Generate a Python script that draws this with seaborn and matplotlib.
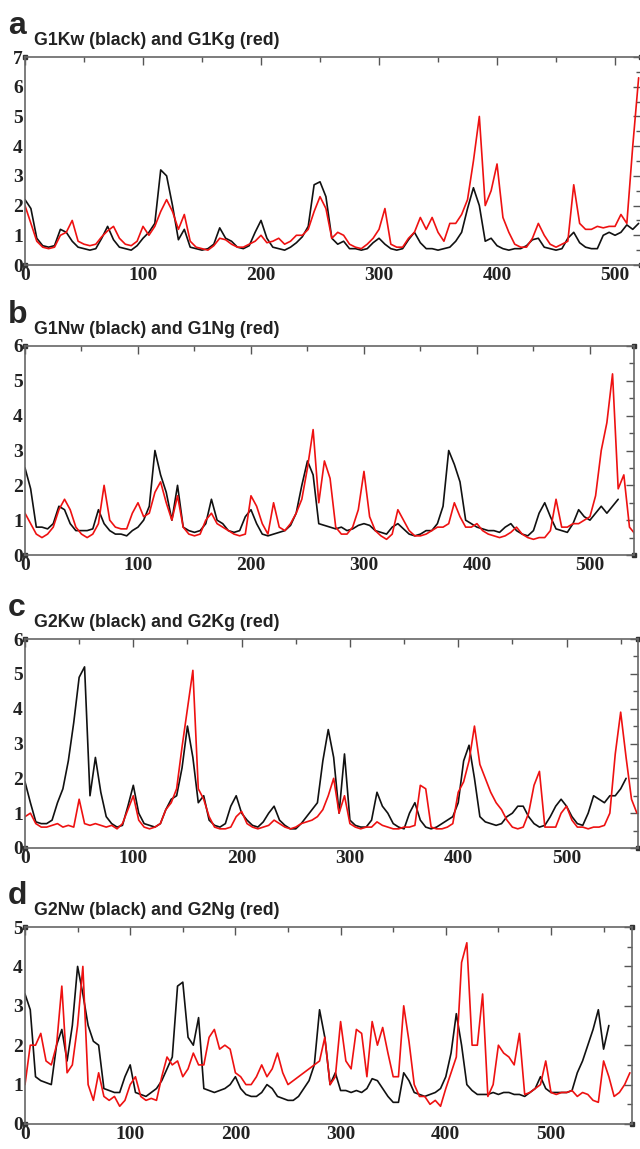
import numpy as np
import pandas as pd
import matplotlib
matplotlib.use("Agg")
import matplotlib.pyplot as plt
import seaborn as sns

# RMSF-like profiles, one value every 5 residues
step = 5

g1kw = [2.2, 1.9, 0.9, 0.65, 0.6, 0.65, 1.2, 1.1, 0.8, 0.6, 0.55, 0.5, 0.55, 0.9, 1.3, 0.85,
        0.6, 0.55, 0.5, 0.65, 0.9, 1.1, 1.4, 3.2, 3.0, 2.0, 0.85, 1.2, 0.6, 0.55, 0.5, 0.55,
        0.7, 1.25, 0.9, 0.8, 0.6, 0.55, 0.65, 1.1, 1.5, 0.9, 0.6, 0.55, 0.5, 0.6, 0.75, 0.95,
        1.3, 2.7, 2.8, 2.3, 0.9, 0.7, 0.8, 0.55, 0.55, 0.5, 0.55, 0.75, 0.9, 0.7, 0.55, 0.5,
        0.55, 0.85, 1.1, 0.75, 0.55, 0.55, 0.5, 0.55, 0.6, 0.8, 1.1, 1.9, 2.6, 2.0, 0.8, 0.9,
        0.65, 0.55, 0.5, 0.55, 0.55, 0.65, 0.85, 0.9, 0.6, 0.55, 0.5, 0.55, 0.9, 1.1, 0.75, 0.6,
        0.55, 0.55, 1.0, 1.1, 1.0, 1.1, 1.35, 1.2, 1.4]
g1kg = [2.0, 1.4, 0.8, 0.6, 0.55, 0.6, 1.0, 1.1, 1.5, 0.8, 0.7, 0.65, 0.7, 0.95, 1.15, 1.3,
        0.9, 0.7, 0.65, 0.8, 1.3, 1.0, 1.3, 1.8, 2.2, 1.8, 1.2, 1.7, 0.8, 0.6, 0.55, 0.5,
        0.65, 0.9, 0.85, 0.7, 0.6, 0.6, 0.7, 0.8, 1.0, 0.75, 0.8, 0.9, 0.7, 0.8, 1.0, 1.0,
        1.2, 1.8, 2.3, 1.9, 0.9, 1.1, 1.0, 0.7, 0.6, 0.55, 0.7, 0.9, 1.2, 1.9, 0.7, 0.6,
        0.6, 0.9, 1.1, 1.6, 1.2, 1.6, 1.1, 0.8, 1.4, 1.4, 1.7, 2.2, 3.5, 5.0, 2.0, 2.5,
        3.4, 1.6, 1.1, 0.7, 0.6, 0.6, 0.9, 1.4, 1.0, 0.7, 0.6, 0.7, 0.8, 2.7, 1.4, 1.2,
        1.2, 1.3, 1.25, 1.3, 1.3, 1.7, 1.4, 4.0, 6.3]

g1nw = [2.5, 1.9, 0.8, 0.8, 0.75, 0.9, 1.4, 1.3, 0.9, 0.7, 0.7, 0.7, 0.75, 1.3, 0.9, 0.7,
        0.6, 0.6, 0.55, 0.7, 0.8, 1.0, 1.4, 3.0, 2.3, 1.8, 1.0, 2.0, 0.8, 0.7, 0.65, 0.7,
        0.9, 1.6, 1.0, 0.9, 0.7, 0.65, 0.7, 1.1, 1.3, 0.9, 0.6, 0.55, 0.6, 0.65, 0.7, 0.85,
        1.2, 2.0, 2.7, 2.3, 0.9, 0.85, 0.8, 0.75, 0.8, 0.7, 0.75, 0.85, 0.9, 0.85, 0.7, 0.65,
        0.6, 0.8, 0.9, 0.75, 0.6, 0.55, 0.6, 0.7, 0.7, 0.9, 1.4, 3.0, 2.6, 2.1, 1.0, 0.9,
        0.8, 0.75, 0.7, 0.7, 0.65, 0.8, 0.9, 0.7, 0.6, 0.55, 0.7, 1.2, 1.5, 1.1, 0.75, 0.7,
        0.65, 0.9, 1.3, 1.1, 1.0, 1.2, 1.4, 1.2, 1.4, 1.6]
g1ng = [1.2, 0.9, 0.6, 0.5, 0.6, 0.8, 1.3, 1.6, 1.3, 0.8, 0.6, 0.5, 0.6, 0.9, 2.0, 1.0,
        0.8, 0.75, 0.75, 1.2, 1.5, 1.1, 1.2, 1.8, 2.1, 1.5, 1.0, 1.7, 0.8, 0.6, 0.55, 0.6,
        1.0, 1.2, 0.9, 0.8, 0.7, 0.6, 0.55, 0.6, 1.7, 1.4, 0.9, 0.6, 1.5, 0.8, 0.7, 0.9,
        1.2, 1.6, 2.5, 3.6, 1.5, 2.7, 2.2, 0.8, 0.6, 0.6, 0.8, 1.3, 2.4, 1.1, 0.7, 0.55,
        0.45, 0.6, 1.3, 1.0, 0.7, 0.55, 0.55, 0.6, 0.7, 0.8, 0.8, 0.9, 1.5, 1.1, 0.8, 0.8,
        0.9, 0.7, 0.6, 0.55, 0.5, 0.55, 0.65, 0.8, 0.6, 0.5, 0.45, 0.5, 0.5, 0.7, 1.6, 0.8,
        0.8, 0.9, 0.9, 1.0, 1.1, 1.7, 3.0, 3.8, 5.2, 1.9, 2.3, 0.8, 0.6]

g2kw = [1.9, 1.3, 0.75, 0.7, 0.7, 0.8, 1.3, 1.7, 2.5, 3.6, 4.9, 5.2, 1.5, 2.6, 1.6, 0.9,
        0.7, 0.6, 0.65, 1.2, 1.8, 1.0, 0.7, 0.65, 0.6, 0.7, 1.1, 1.4, 1.5, 2.3, 3.5, 2.6,
        1.3, 1.5, 0.8, 0.65, 0.6, 0.7, 1.2, 1.5, 1.0, 0.8, 0.65, 0.6, 0.75, 1.0, 1.2, 0.8,
        0.65, 0.55, 0.55, 0.7, 0.9, 1.1, 1.3, 2.5, 3.4, 2.6, 1.0, 2.7, 0.8, 0.65, 0.6, 0.6,
        0.8, 1.6, 1.2, 1.0, 0.7, 0.6, 0.55, 1.0, 1.3, 0.8, 0.6, 0.55, 0.6, 0.7, 0.8, 0.9,
        1.3, 2.5, 2.95, 2.0, 0.9, 0.75, 0.7, 0.65, 0.7, 0.9, 1.0, 1.2, 1.2, 0.9, 0.7, 0.6,
        0.65, 0.9, 1.2, 1.4, 1.2, 0.9, 0.7, 0.65, 1.0, 1.5, 1.4, 1.3, 1.5, 1.5, 1.7, 2.0]
g2kg = [0.9, 1.0, 0.7, 0.6, 0.6, 0.65, 0.7, 0.6, 0.65, 0.6, 1.4, 0.7, 0.65, 0.7, 0.65, 0.6,
        0.65, 0.55, 0.7, 1.1, 1.5, 0.8, 0.6, 0.55, 0.6, 0.7, 1.1, 1.3, 1.7, 2.9, 4.0, 5.1,
        1.7, 1.4, 0.9, 0.6, 0.55, 0.55, 0.6, 0.9, 1.05, 0.7, 0.6, 0.55, 0.6, 0.65, 0.8, 0.7,
        0.6, 0.55, 0.6, 0.7, 0.75, 0.8, 0.9, 1.1, 1.5, 2.0, 1.0, 1.5, 0.7, 0.6, 0.55, 0.6,
        0.6, 0.75, 0.65, 0.6, 0.55, 0.55, 0.6, 0.6, 0.65, 1.8, 1.7, 0.6, 0.55, 0.55, 0.6, 0.7,
        1.6, 1.9, 2.5, 3.5, 2.4, 2.0, 1.6, 1.3, 1.1, 0.8, 0.6, 0.55, 0.6, 1.0, 1.8, 2.2,
        0.6, 0.6, 0.6, 1.0, 1.2, 0.8, 0.6, 0.6, 0.55, 0.6, 0.6, 0.65, 1.0, 2.7, 3.9, 2.6,
        1.4, 1.0]

g2nw = [3.3, 2.9, 1.2, 1.1, 1.05, 1.0, 2.0, 2.4, 1.6, 2.5, 4.0, 3.3, 2.5, 2.1, 2.0, 0.9,
        0.85, 0.8, 0.8, 1.2, 1.5, 0.8, 0.75, 0.7, 0.8, 0.9, 1.1, 1.4, 1.7, 3.5, 3.6, 2.2,
        2.0, 2.7, 0.9, 0.85, 0.8, 0.85, 0.9, 1.0, 1.2, 0.9, 0.75, 0.7, 0.7, 0.8, 1.0, 0.9,
        0.7, 0.65, 0.6, 0.6, 0.7, 0.9, 1.1, 1.5, 2.9, 2.2, 1.0, 1.3, 0.85, 0.85, 0.8, 0.85,
        0.8, 0.9, 1.15, 1.1, 0.9, 0.7, 0.55, 0.55, 1.3, 1.1, 0.8, 0.75, 0.7, 0.75, 0.8, 0.9,
        1.2, 1.8, 2.8, 2.0, 1.0, 0.85, 0.75, 0.75, 0.75, 0.8, 0.75, 0.8, 0.8, 0.75, 0.75, 0.7,
        0.8, 0.9, 1.2, 0.9, 0.8, 0.8, 0.8, 0.8, 0.85, 1.3, 1.6, 2.0, 2.4, 2.9, 1.9, 2.5]
g2ng = [1.0, 2.0, 2.0, 2.3, 1.6, 1.5, 2.0, 3.5, 1.3, 1.5, 2.5, 4.0, 1.0, 0.6, 1.3, 0.7,
        0.6, 0.7, 0.45, 0.6, 1.0, 1.2, 0.7, 0.6, 0.65, 0.6, 1.2, 1.7, 1.5, 1.6, 1.2, 1.4,
        1.8, 1.5, 1.5, 2.2, 2.4, 1.9, 2.0, 1.9, 1.3, 1.2, 1.0, 1.0, 1.2, 1.5, 1.2, 1.4,
        1.8, 1.3, 1.0, 1.1, 1.2, 1.3, 1.4, 1.5, 1.6, 2.2, 1.0, 1.2, 2.6, 1.6, 1.4, 2.4,
        2.3, 1.2, 2.6, 2.0, 2.45, 1.8, 1.2, 1.2, 3.0, 2.1, 1.0, 0.7, 0.7, 0.5, 0.6, 0.45,
        0.9, 1.3, 1.7, 4.1, 4.6, 2.0, 2.0, 3.3, 0.7, 1.0, 2.0, 1.8, 1.7, 1.5, 2.3, 0.75,
        0.8, 0.9, 1.0, 1.6, 0.8, 0.75, 0.8, 0.8, 0.85, 0.7, 0.8, 0.75, 0.6, 0.55, 1.6, 1.2,
        0.7, 0.8, 1.0, 1.3]

letters = ["a", "b", "c", "d"]
titles = ["G1Kw (black) and G1Kg (red)", "G1Nw (black) and G1Ng (red)",
          "G2Kw (black) and G2Kg (red)", "G2Nw (black) and G2Ng (red)"]
pairs = [(g1kw, g1kg), (g1nw, g1ng), (g2kw, g2kg), (g2nw, g2ng)]
x_max = [522, 539, 566, 577]
y_max = [7, 6, 6, 5]

# axes boxes in pixels: left, right, top, bottom
boxes = [(25, 641, 57, 265), (25, 634, 346, 555), (25, 638, 639, 848), (25, 632, 927, 1124)]

sns.set_theme(style="white")
W, H = 640, 1149
fig = plt.figure(figsize=(W / 100, H / 100), dpi=100)

for i in range(4):
    l, r, t, b = boxes[i]
    ax = fig.add_axes([l / W, 1 - b / H, (r - l) / W, (b - t) / H])
    black, red = pairs[i]
    df = pd.concat([
        pd.DataFrame({"residue": np.arange(len(black)) * step, "rmsf": black, "series": "black"}),
        pd.DataFrame({"residue": np.arange(len(red)) * step, "rmsf": red, "series": "red"}),
    ])
    sns.lineplot(data=df, x="residue", y="rmsf", hue="series",
                 palette={"black": "#111111", "red": "#ee1111"},
                 legend=False, lw=1.2, ax=ax)
    ax.set_xlim(0, x_max[i])
    ax.set_ylim(0, y_max[i])
    ax.set_xlabel("")
    ax.set_ylabel("")
    ax.set_xticks(np.arange(0, x_max[i] + 1, 100))
    ax.set_xticks(np.arange(50, x_max[i] + 1, 100), minor=True)
    ax.set_yticks(np.arange(0, y_max[i] + 1, 1))
    ax.set_yticks(np.arange(0.5, y_max[i], 1), minor=True)
    ax.tick_params(which="both", direction="in", top=True, right=True,
                   color="#555555", width=1)
    ax.tick_params(which="major", length=6, pad=1.5)
    ax.tick_params(which="minor", length=3.5)
    for lab in ax.get_xticklabels() + ax.get_yticklabels():
        lab.set_fontfamily("Liberation Serif")
        lab.set_fontweight("bold")
        lab.set_fontsize(14)
        lab.set_color("#222222")
    for sp in ax.spines.values():
        sp.set_color("#666666")
        sp.set_linewidth(1.2)
    # small corner squares, as drawn by the original plotting program
    ax.plot([0, 1, 0, 1], [0, 0, 1, 1], "s", ms=3.5, color="#333333",
            transform=ax.transAxes, clip_on=False)

    fig.text(8 / W, 1 - (t - 23) / H, letters[i], fontsize=23, fontweight="bold",
             family="Liberation Sans", va="baseline", ha="left")
    fig.text(34 / W, 1 - (t - 12) / H, titles[i], fontsize=12.8, fontweight="bold",
             family="Liberation Sans", va="baseline", ha="left", color="#222222")

fig.savefig("out.png", dpi=100)
